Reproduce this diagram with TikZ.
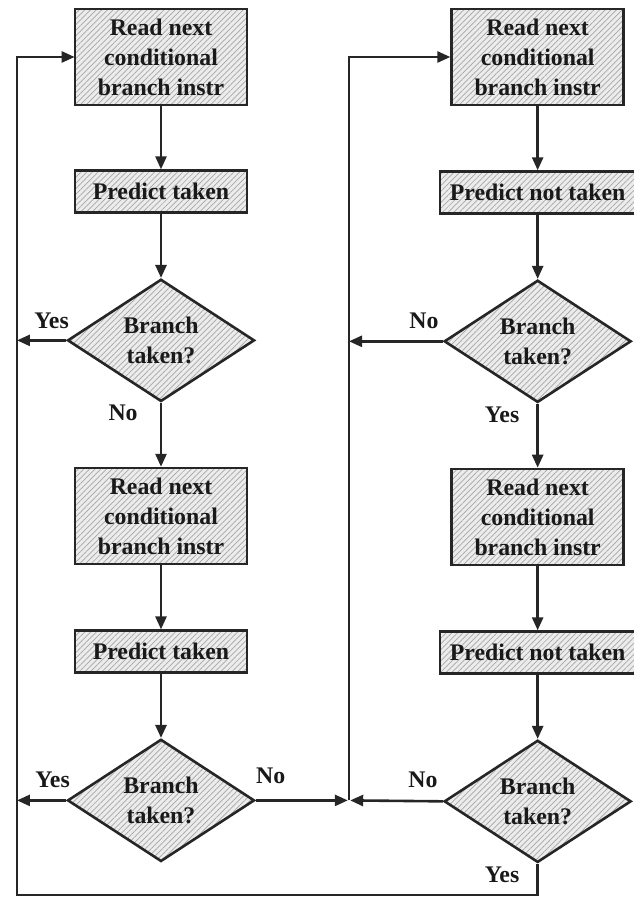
\documentclass[tikz,border=0pt]{standalone}
\usepackage{fontspec}
\setmainfont{Liberation Serif}
\usepackage{tikz}
\usetikzlibrary{arrows.meta,positioning,shapes.geometric,patterns.meta}

\begin{document}
\begin{tikzpicture}[
  node distance=32pt and 101.5pt,
  font=\fontsize{11.9}{15}\selectfont\bfseries,
  hatch/.style={draw=black!85,line width=1.3pt,preaction={fill=gray!15},
                pattern={Lines[angle=45,distance=2pt,line width=0.35pt]},pattern color=gray!70},
  box/.style={hatch,minimum width=86pt,minimum height=21pt,inner xsep=5pt,align=center,text=black!90},
  readbox/.style={box,minimum height=48pt},
  dec/.style={hatch,diamond,minimum width=93.5pt,minimum height=61pt,inner sep=0pt,align=center,text=black!90},
  arr/.style={-{Triangle[length=6.5pt,width=5.5pt]},line width=1.3pt,draw=black!85},
  lbl/.style={inner sep=0pt,text=black!90}
]
\useasboundingbox (-80.5pt,28.5pt) rectangle (236pt,-420.5pt);
\node[readbox] (read1) {Read next\\conditional\\branch instr};
\node[box,below=of read1] (pred1) {Predict taken};
\node[dec,below=of pred1] (br1) {Branch\\taken?};
\node[readbox,below=of br1] (read2) {Read next\\conditional\\branch instr};
\node[box,below=of read2] (pred2) {Predict taken};
\node[dec,below=of pred2] (br2) {Branch\\taken?};
\node[readbox,right=of read1] (readn1) {Read next\\conditional\\branch instr};
\node[box,below=of readn1] (predn1) {Predict not taken};
\node[dec,below=of predn1] (brn1) {Branch\\taken?};
\node[readbox,below=of brn1] (readn2) {Read next\\conditional\\branch instr};
\node[box,below=of readn2] (predn2) {Predict not taken};
\node[dec,below=of predn2] (brn2) {Branch\\taken?};
\node[lbl,above left=5.5pt and -1.5pt of br1.west] (yes1) {Yes};
\node[lbl,below left=1pt and 11.5pt of br1.south] (no1) {No};
\node[lbl,above left=6pt and -2pt of br2.west] (yes2) {Yes};
\node[lbl,above right=8pt and 0pt of br2.east] (no2) {No};
\node[lbl,above left=6pt and 2pt of brn1.west] (non1) {No};
\node[lbl,below left=1.5pt and 9pt of brn1.south] (yesn1) {Yes};
\node[lbl,above left=6.5pt and 2.5pt of brn2.west] (non2) {No};
\node[lbl,below left=1.5pt and 9pt of brn2.south] (yesn2) {Yes};
\coordinate (corner) at (-72pt,-419pt);
\coordinate (join) at ([xshift=94pt]br2.center);
\draw[arr] (read1) -- (pred1);
\draw[arr] (pred1) -- (br1);
\draw[arr] (br1) -- (read2);
\draw[arr] (read2) -- (pred2);
\draw[arr] (pred2) -- (br2);
\draw[arr] (readn1) -- (predn1);
\draw[arr] (predn1) -- (brn1);
\draw[arr] (brn1) -- (readn2);
\draw[arr] (readn2) -- (predn2);
\draw[arr] (predn2) -- (brn2);
\draw[arr] (br1.west) -- (br1.west -| corner);
\draw[arr] (br2.west) -- (br2.west -| corner);
\draw[arr] (brn2.south) |- (corner) |- (read1.west);
\draw[arr,shorten >=0.6pt] (br2.east) -- (join);
\draw[arr,shorten >=0.6pt] (brn2.west) -- (join);
\draw[arr] (brn1.west) -- (brn1.west -| join);
\draw[arr] (join) |- (readn1.west);
\end{tikzpicture}
\end{document}
